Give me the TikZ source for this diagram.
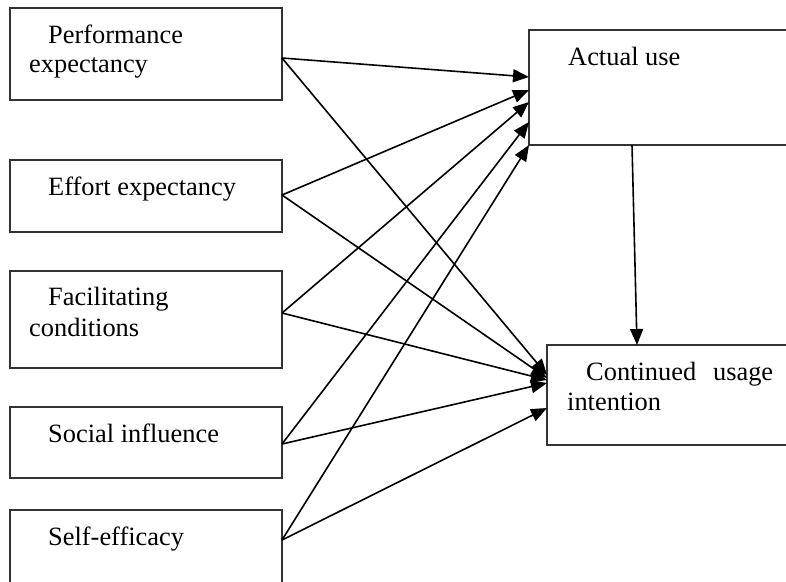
\documentclass[tikz,border=0pt]{standalone}
\usepackage{fontspec}
\setmainfont{Liberation Serif}
\usetikzlibrary{arrows.meta}
\begin{document}
\begin{tikzpicture}[x=1pt,y=-1pt,
  box/.style={draw=black!80, line width=1.3pt},
  lbl/.style={anchor=base west, inner sep=0pt, font=\fontsize{26.4}{30}\selectfont},
  conn/.style={line width=1.6pt, -{Triangle[length=16pt,width=13pt]}}]
\useasboundingbox (0,0) rectangle (786,581);
\clip (0,0) rectangle (786,581);
\fill[white] (0,0) rectangle (786,581);
% boxes
\draw[box] (10,8) rectangle (282,100) coordinate (pebox);
\draw[box] (10,160) rectangle (282,232) coordinate (eebox);
\draw[box] (10,271) rectangle (282,368) coordinate (fcbox);
\draw[box] (10,407) rectangle (282,478) coordinate (sibox);
\draw[box] (10,510) rectangle (282,620) coordinate (sebox);
\draw[box] (529,30) rectangle (820,145) coordinate (aubox);
\draw[box] (547,345) rectangle (820,445) coordinate (cubox);
% labels
\node[lbl] (pe1) at (48,43) {Performance};
\node[lbl] (pe2) at (29,72) {expectancy};
\node[lbl] (ee) at (48,195) {Effort expectancy};
\node[lbl] (fc1) at (48,305) {Facilitating};
\node[lbl] (fc2) at (29,336) {conditions};
\node[lbl] (si) at (48,442) {Social influence};
\node[lbl] (se) at (48,545) {Self-efficacy};
\node[lbl] (au) at (568,65) {Actual use};
\node[lbl] (cu1) at (586,380) {\makebox[187pt][s]{Continued usage}};
\node[lbl] (cu2) at (567,410) {intention};
% ports
\coordinate (peo) at (282,58);
\coordinate (eeo) at (282,195);
\coordinate (fco) at (282,313);
\coordinate (sio) at (282,444);
\coordinate (seo) at (282,540);
\coordinate (au1) at (529,77);
\coordinate (au2) at (529,90);
\coordinate (au3) at (529,102);
\coordinate (au4) at (529,122);
\coordinate (au5) at (529,145);
\coordinate (auo) at (632,145);
\coordinate (cu0) at (637,345);
\coordinate (cu1p) at (547,375);
\coordinate (cu2p) at (547,378);
\coordinate (cu3p) at (547,380);
\coordinate (cu4p) at (547,383);
\coordinate (cu5p) at (547,408);
% connectors
\draw[conn] (peo) -- (au1);
\draw[conn] (eeo) -- (au2);
\draw[conn] (fco) -- (au3);
\draw[conn] (sio) -- (au4);
\draw[conn] (seo) -- (au5);
\draw[conn] (peo) -- (cu1p);
\draw[conn] (eeo) -- (cu2p);
\draw[conn] (fco) -- (cu3p);
\draw[conn] (sio) -- (cu4p);
\draw[conn] (seo) -- (cu5p);
\draw[conn] (auo) -- (cu0);
\end{tikzpicture}
\end{document}
